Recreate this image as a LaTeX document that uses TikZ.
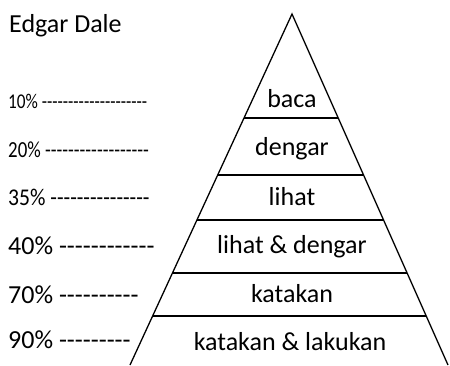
\documentclass[tikz,border=0pt]{standalone}
\usepackage{fontspec}
\setmainfont{Carlito}
\usetikzlibrary{calc}
\newcommand\narrowpct[3]{\scalebox{#2}[1]{\fontsize{#1}{#1}\selectfont #3}}
\newcommand\dashrow[1]{\foreach \i in {1,...,#1}{-}}
\begin{document}
\begin{tikzpicture}[x=1pt,y=-1pt,
    lvl/.style={font=\fontsize{26}{30}\selectfont, inner sep=0pt, anchor=base},
    pct/.style={font=\fontsize{26}{30}\selectfont, inner sep=0pt, anchor=base west},
    sep/.style={line width=2.2pt}
  ]
  \useasboundingbox (0,0) rectangle (450,365);
  % pyramid
  \coordinate (top) at (292,14);
  \coordinate (bl) at (130,365);
  \coordinate (br) at (448,365);
  \draw[line width=1.3pt] (bl) -- (top) -- (br);
  \foreach \t in {0.296,0.459,0.587,0.738,0.860}
    \draw[sep] ($(top)!\t!(bl)$) -- ($(top)!\t!(br)$);
  % levels
  \node[lvl] (baca) at (292,107) {baca};
  \node[lvl] (dengar) at (292,155) {dengar};
  \node[lvl] (lihat) at (292,205) {lihat};
  \node[lvl] (lihatdengar) at (292,253) {lihat \& dengar};
  \node[lvl] (katakan) at (292,302) {katakan};
  \node[lvl] (lakukan) at (290,350) {katakan \& lakukan};
  % title and percentages
  \node[pct] (title) at (9,32) {Edgar Dale};
  \node[pct] (p10) at (8,108) {\narrowpct{21}{0.82}{10\% \dashrow{20}}};
  \node[pct] (p20) at (8,157) {\narrowpct{23}{0.82}{20\% \dashrow{18}}};
  \node[pct] (p35) at (8,205) {\narrowpct{24}{0.9}{35\% \dashrow{15}}};
  \node[pct] (p40) at (8,254) {40\% \dashrow{12}};
  \node[pct] (p70) at (8,303) {70\% \dashrow{10}};
  \node[pct] (p90) at (8,348) {90\% \dashrow{9}};
\end{tikzpicture}
\end{document}
